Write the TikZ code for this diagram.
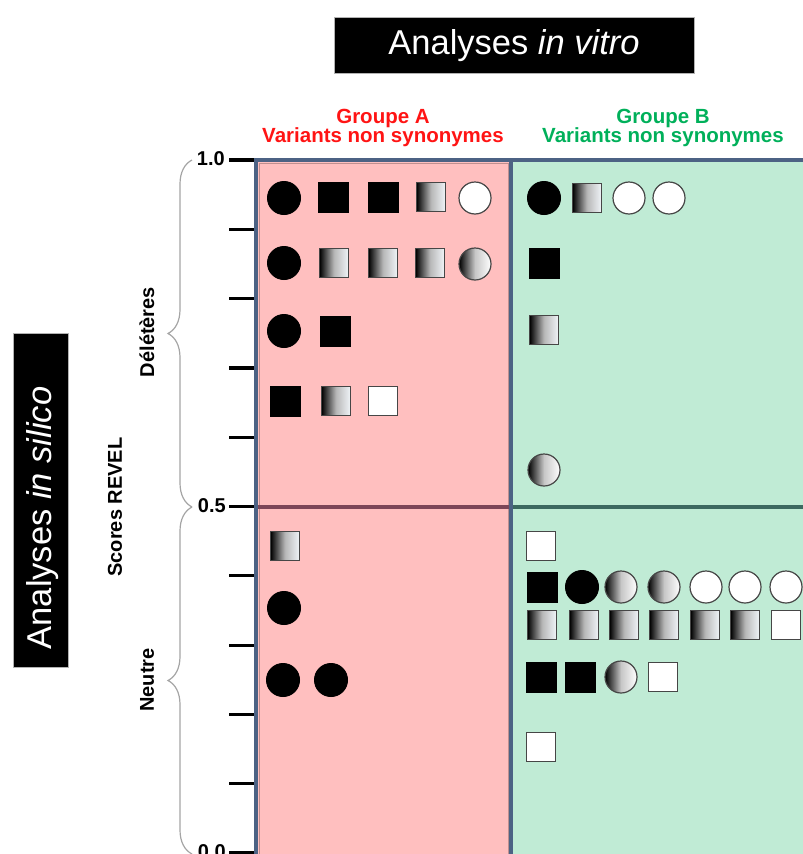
\documentclass[tikz,border=0pt]{standalone}
\usepackage{fontspec}
\setmainfont{Liberation Sans}
\usetikzlibrary{decorations.pathreplacing}
\definecolor{redfill}{RGB}{255,191,191}
\definecolor{greenfill}{RGB}{192,235,213}
\definecolor{framec}{RGB}{76,98,132}
\definecolor{midred}{RGB}{125,70,88}
\definecolor{midgreen}{RGB}{60,105,96}
\definecolor{redtxt}{RGB}{255,20,20}
\definecolor{greentxt}{RGB}{0,176,90}
\definecolor{shapeedge}{RGB}{70,70,70}
\definecolor{lightend}{RGB}{240,244,248}
\definecolor{bracec}{RGB}{165,165,165}
\begin{document}
\begin{tikzpicture}[x=1pt,y=-1pt,
  ci/.style={circle, fill=black, draw=black, line width=1pt, minimum size=33pt, inner sep=0pt},
  sq/.style={rectangle, fill=black, draw=black, line width=1pt, minimum size=30pt, inner sep=0pt},
  gsq/.style={rectangle, draw=shapeedge, line width=1.2pt, minimum size=29pt, inner sep=0pt,
    left color=black, right color=lightend, middle color=black!28},
  wsq/.style={rectangle, fill=white, draw=shapeedge, line width=1.2pt, minimum size=29pt, inner sep=0pt},
  gci/.style={circle, draw=shapeedge, line width=1.2pt, minimum size=32pt, inner sep=0pt,
    left color=black, right color=white, middle color=black!22},
  wci/.style={circle, fill=white, draw=shapeedge, line width=1.2pt, minimum size=32pt, inner sep=0pt},
  tickline/.style={line width=3.2pt, black},
  bracestyle/.style={draw=bracec, line width=1.2pt, decorate, decoration={brace, amplitude=24pt}},
  axlabel/.style={font=\fontsize{20}{22}\selectfont\bfseries, inner sep=0pt},
  grouphead/.style={font=\fontsize{20.5}{19.5}\selectfont\bfseries, align=center, inner sep=0pt},
  bigtitle/.style={font=\fontsize{34.5}{40}\selectfont, text=white, inner sep=0pt}
]
\useasboundingbox (0,0) rectangle (803,854);
\clip (0,0) rectangle (803,854);

% titles
\node[fill=black, draw=gray!60, line width=0.8pt, minimum width=360pt, minimum height=56pt, inner sep=0pt] (ttlbox) at (514,45) {};
\node[bigtitle] (ttl) at (514,46) {Analyses \textit{in vitro}};
\node[fill=black, draw=gray!60, line width=0.8pt, minimum width=55pt, minimum height=334pt, inner sep=0pt] (silbox) at (40.5,500) {};
\node[bigtitle, rotate=90] (sil) at (43,518) {Analyses \textit{in silico}};

% group headers
\node[grouphead, text=redtxt] (ga) at (383,128) {Groupe A\\Variants non synonymes};
\node[grouphead, text=greentxt] (gb) at (663,128) {Groupe B\\Variants non synonymes};

% panels
\fill[redfill] (256,160) rectangle (511,870);
\fill[greenfill] (511,160) rectangle (820,870);
\draw[color=redfill!75!black, line width=1pt] (259,163) rectangle (508.5,870);
\draw[midred, line width=4pt] (256,507) -- (511,507);
\draw[midgreen, line width=4pt] (511,507) -- (820,507);
\draw[framec, line width=4pt] (256,870) -- (256,160) -- (820,160);
\draw[framec, line width=4.5pt] (511,160) -- (511,870);

% axis ticks
\foreach \k in {0,...,10} {
  \draw[tickline] (229,160+69.3*\k) -- (254,160+69.3*\k);
}
\node[axlabel, anchor=east] (l10) at (225,159) {1.0};
\node[axlabel, anchor=east] (l05) at (226,506) {0.5};
\node[axlabel, anchor=east] (l00) at (226,852) {0.0};

% braces
\draw[bracestyle] (192,507) -- (192,160);
\draw[bracestyle] (192,854) -- (192,507);
\node[axlabel, rotate=90] (del) at (147,332) {Délétères};
\node[axlabel, rotate=90] (neu) at (147,680) {Neutre};
\node[axlabel, rotate=90] (rev) at (115,507) {Scores REVEL};

% Group A
\node[ci]  (a11) at (284,198) {};
\node[sq]  (a12) at (333,197) {};
\node[sq]  (a13) at (383,197) {};
\node[gsq] (a14) at (431,197) {};
\node[wci] (a15) at (475,198) {};
\node[ci]  (a21) at (284,263) {};
\node[gsq] (a22) at (334,263) {};
\node[gsq] (a23) at (383,263) {};
\node[gsq] (a24) at (430,263) {};
\node[gci] (a25) at (475,264) {};
\node[ci]  (a31) at (284,331) {};
\node[sq]  (a32) at (335,331) {};
\node[sq]  (a41) at (285,401) {};
\node[gsq] (a42) at (336,401) {};
\node[wsq] (a43) at (383,401) {};
\node[gsq] (a51) at (285,546) {};
\node[ci]  (a61) at (284,608) {};
\node[ci]  (a71) at (283,680) {};
\node[ci]  (a72) at (331,680) {};

% Group B
\node[ci]  (b11) at (544,198) {};
\node[gsq] (b12) at (587,198) {};
\node[wci] (b13) at (629,198) {};
\node[wci] (b14) at (669,198) {};
\node[sq]  (b21) at (544,263) {};
\node[gsq] (b31) at (544,330) {};
\node[gci] (b41) at (544,470) {};
\node[wsq] (b51) at (541,546) {};
\node[sq]  (b61) at (542,587) {};
\node[ci]  (b62) at (582,587) {};
\node[gci] (b63) at (621,587) {};
\node[gci] (b64) at (664,587) {};
\node[wci] (b65) at (706,587) {};
\node[wci] (b66) at (745,587) {};
\node[wci] (b67) at (786,587) {};
\node[gsq] (b71) at (542,625) {};
\node[gsq] (b72) at (584,625) {};
\node[gsq] (b73) at (624,625) {};
\node[gsq] (b74) at (664,625) {};
\node[gsq] (b75) at (705,625) {};
\node[gsq] (b76) at (745,625) {};
\node[wsq] (b77) at (786,625) {};
\node[sq]  (b81) at (541,677) {};
\node[sq]  (b82) at (580,677) {};
\node[gci] (b83) at (621,677) {};
\node[wsq] (b84) at (663,677) {};
\node[wsq] (b91) at (541,747) {};
\end{tikzpicture}
\end{document}
